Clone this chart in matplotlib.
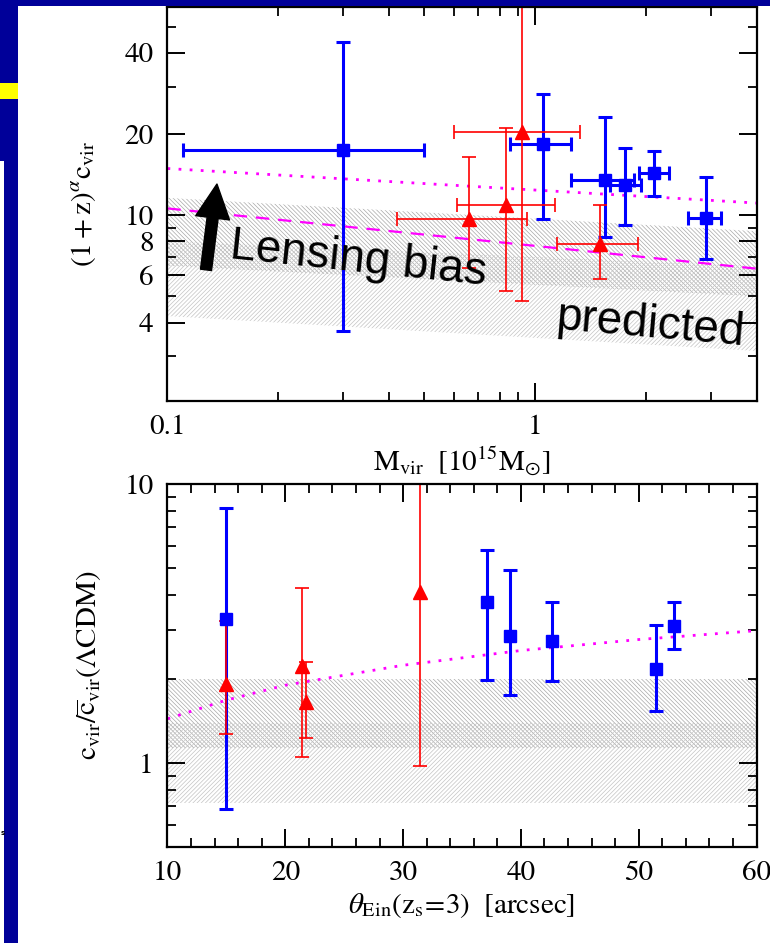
import numpy as np
import matplotlib
matplotlib.use('Agg')
from matplotlib import pyplot as plt
from matplotlib.patches import Rectangle
from matplotlib.ticker import FixedLocator, FixedFormatter

# top panel: concentration vs virial mass
blue_mass = [0.30, 1.05, 1.55, 1.75, 2.11, 2.91]
blue_mass_lo = [0.11, 0.856, 1.255, 1.60, 1.914, 2.61]
blue_mass_hi = [0.50, 1.255, 1.855, 1.945, 2.31, 3.21]
blue_conc = [17.5, 18.4, 13.5, 12.9, 14.3, 9.8]
blue_conc_lo = [3.71, 9.66, 8.34, 9.18, 11.76, 6.9]
blue_conc_hi = [43.9, 28.1, 23.2, 17.7, 17.3, 13.9]

red_mass = [0.659, 0.832, 0.919, 1.505]
red_mass_lo = [0.42, 0.614, 0.60, 1.148]
red_mass_hi = [0.95, 1.133, 1.327, 1.905]
red_conc = [9.72, 10.9, 20.3, 7.83]
red_conc_lo = [6.38, 5.22, 4.8, 5.78]
red_conc_hi = [16.5, 21.0, 80.0, 10.96]

model_mass = [0.1, 1.0, 4.0]
model_dotted = [14.9, 12.4, 11.1]
model_dashed = [10.6, 7.7, 6.34]

band_mass = [0.1, 4.0]
band_upper_lo = [6.5, 5.01]
band_upper_hi = [11.6, 8.73]
band_lower_lo = [4.23, 3.14]
band_lower_hi = [8.0, 6.47]

# bottom panel: ratio vs Einstein radius
blue_theta = [15.0, 37.1, 39.1, 42.6, 51.5, 53.0]
blue_ratio = [3.28, 3.76, 2.86, 2.73, 2.17, 3.10]
blue_ratio_lo = [0.686, 1.99, 1.756, 1.97, 1.535, 2.56]
blue_ratio_hi = [8.18, 5.79, 4.92, 3.77, 3.13, 3.77]

red_theta = [15.0, 21.4, 21.8, 31.4]
red_ratio = [1.92, 2.22, 1.65, 4.10]
red_ratio_lo = [1.266, 1.05, 1.23, 0.978]
red_ratio_hi = [3.24, 4.23, 2.31, 15.0]

model_theta = [10, 15, 20, 30, 40, 50, 60]
model_ratio = [1.44, 1.68, 1.90, 2.24, 2.53, 2.77, 2.98]

band_theta = [10, 60]
ratio_upper = (1.13, 2.0)
ratio_lower = (0.72, 1.39)

plt.rcParams['font.family'] = ['STIXGeneral', 'DejaVu Serif']
plt.rcParams['mathtext.fontset'] = 'stix'
plt.rcParams['hatch.linewidth'] = 0.5

BLUE = '#0000ff'
RED = '#ff0000'
MAG = '#ff00ff'
SLIDE = '#000099'
HATCH_DARK = '#a8a8a8'
HATCH_LIGHT = '#c4c4c4'


def err(v, lo, hi):
    v = np.array(v)
    return [v - np.array(lo), np.array(hi) - v]


def style_axes(ax):
    for s in ax.spines.values():
        s.set_linewidth(1.6)
    ax.tick_params(which='both', direction='in', top=True, right=True,
                   labelsize=21, pad=10)
    ax.tick_params(which='major', length=13, width=1.4)
    ax.tick_params(which='minor', length=6.5, width=1.3)


fig = plt.figure(figsize=(7.7, 9.43), dpi=100)

# slide decoration
fig.add_artist(Rectangle((0, 1 - 6 / 943), 1, 6 / 943, transform=fig.transFigure,
                         color=SLIDE, lw=0))
fig.add_artist(Rectangle((0, 0), 18 / 770, 1, transform=fig.transFigure,
                         color=SLIDE, lw=0))
fig.add_artist(Rectangle((0, 0), 4 / 770, 1 - 161 / 943, transform=fig.transFigure,
                         color='white', lw=0))
fig.add_artist(Rectangle((0, 1 - 99 / 943), 18 / 770, 16 / 943,
                         transform=fig.transFigure, color='#ffff00', lw=0))
fig.text(0.2 / 770, 1 - 833 / 943, 's', fontsize=5, va='center',
         family='DejaVu Sans', weight='bold')

# ---- top panel
ax1 = fig.add_axes([0.2175, 0.5748, 0.765, 0.4175])
ax1.set_xscale('log')
ax1.set_yscale('log')
ax1.fill_between(band_mass, band_upper_lo, band_upper_hi, facecolor='none',
                 edgecolor=HATCH_DARK, hatch='\\' * 8, linewidth=0)
ax1.fill_between(band_mass, band_lower_lo, band_lower_hi, facecolor='none',
                 edgecolor=HATCH_LIGHT, hatch='/' * 8, linewidth=0)
ax1.plot(model_mass, model_dotted, color=MAG, ls=(0, (1, 3)), lw=2)
ax1.plot(model_mass, model_dashed, color=MAG, ls=(0, (6, 4)), lw=1.6)
ax1.errorbar(blue_mass, blue_conc,
             xerr=err(blue_mass, blue_mass_lo, blue_mass_hi),
             yerr=err(blue_conc, blue_conc_lo, blue_conc_hi),
             fmt='s', color=BLUE, ms=9, elinewidth=2.2, capsize=5,
             capthick=2.2)
ax1.errorbar(red_mass, red_conc,
             xerr=err(red_mass, red_mass_lo, red_mass_hi),
             yerr=err(red_conc, red_conc_lo, red_conc_hi),
             fmt='^', color=RED, ms=10, elinewidth=1.2, capsize=5,
             capthick=1.2)
ax1.set_xlim(0.1, 4.0)
ax1.set_ylim(2.05, 59)
ax1.xaxis.set_major_locator(FixedLocator([0.1, 1]))
ax1.xaxis.set_major_formatter(FixedFormatter(['0.1', '1']))
ax1.xaxis.set_minor_locator(FixedLocator([0.2, 0.3, 0.4, 0.5, 0.6, 0.7,
                                          0.8, 0.9, 2, 3]))
ax1.xaxis.set_minor_formatter(FixedFormatter([]))
yt = [4, 6, 8, 10, 20, 40]
ax1.yaxis.set_major_locator(FixedLocator(yt))
ax1.yaxis.set_major_formatter(FixedFormatter([str(v) for v in yt]))
ax1.yaxis.set_minor_locator(FixedLocator([3, 5, 7, 9, 30, 50]))
ax1.yaxis.set_minor_formatter(FixedFormatter([]))
style_axes(ax1)
ax1.set_xlabel(r'${\rm M_{vir}}\ \ [10^{15}{\rm M}_{\odot}]$', fontsize=21)
ax1.set_ylabel(r'$(1+{\rm z})^{\alpha}{\rm c_{vir}}$', fontsize=21)
ax1.xaxis.set_label_coords(0.5, -0.112)
ax1.yaxis.set_label_coords(-0.118, 0.5)

ax1.annotate('', xy=(0.084, 0.551), xytext=(0.0654, 0.333),
             xycoords='axes fraction',
             arrowprops=dict(arrowstyle='simple,head_width=1.75,'
                             'head_length=1.75,tail_width=0.57',
                             mutation_scale=14, color='black',
                             shrinkA=0, shrinkB=0))
ax1.text(0.3234, 0.358, 'Lensing bias', transform=ax1.transAxes,
         family='Liberation Sans', fontsize=33, rotation=-6,
         ha='center', va='center', rotation_mode='anchor')
ax1.text(0.819, 0.193, 'predicted', transform=ax1.transAxes,
         family='Liberation Sans', fontsize=33, rotation=-5,
         ha='center', va='center', rotation_mode='anchor')

# ---- bottom panel
ax2 = fig.add_axes([0.2175, 0.1018, 0.765, 0.385])
ax2.set_yscale('log')
ax2.fill_between(band_theta, *ratio_upper, facecolor='none',
                 edgecolor=HATCH_DARK, hatch='\\' * 8, linewidth=0)
ax2.fill_between(band_theta, *ratio_lower, facecolor='none',
                 edgecolor=HATCH_LIGHT, hatch='/' * 8, linewidth=0)
ax2.plot(model_theta, model_ratio, color=MAG, ls=(0, (1, 3)), lw=2)
ax2.errorbar(blue_theta, blue_ratio,
             yerr=err(blue_ratio, blue_ratio_lo, blue_ratio_hi),
             fmt='s', color=BLUE, ms=9, elinewidth=2.2, capsize=5,
             capthick=2.2)
ax2.errorbar(red_theta, red_ratio,
             yerr=err(red_ratio, red_ratio_lo, red_ratio_hi),
             fmt='^', color=RED, ms=10, elinewidth=1.2, capsize=5,
             capthick=1.2)
ax2.set_xlim(10, 60)
ax2.set_ylim(0.5, 10)
ax2.xaxis.set_major_locator(FixedLocator(range(10, 61, 10)))
ax2.xaxis.set_minor_locator(FixedLocator(range(10, 61, 2)))
ax2.yaxis.set_major_locator(FixedLocator([1, 10]))
ax2.yaxis.set_major_formatter(FixedFormatter(['1', '10']))
ax2.yaxis.set_minor_locator(FixedLocator([0.6, 0.7, 0.8, 0.9, 2, 3, 4,
                                          5, 6, 7, 8, 9]))
ax2.yaxis.set_minor_formatter(FixedFormatter([]))
style_axes(ax2)
ax2.set_xlabel(r'$\theta_{\rm Ein}({\rm z_s}\!=\!3)\ \ [{\rm arcsec}]$',
               fontsize=21)
ax2.set_ylabel(r'${\rm c_{vir}}/\overline{\rm c}_{\rm vir}(\Lambda{\rm CDM})$',
               fontsize=21)
ax2.xaxis.set_label_coords(0.5, -0.122)
ax2.yaxis.set_label_coords(-0.108, 0.5)

fig.savefig('out.png', dpi=100)
